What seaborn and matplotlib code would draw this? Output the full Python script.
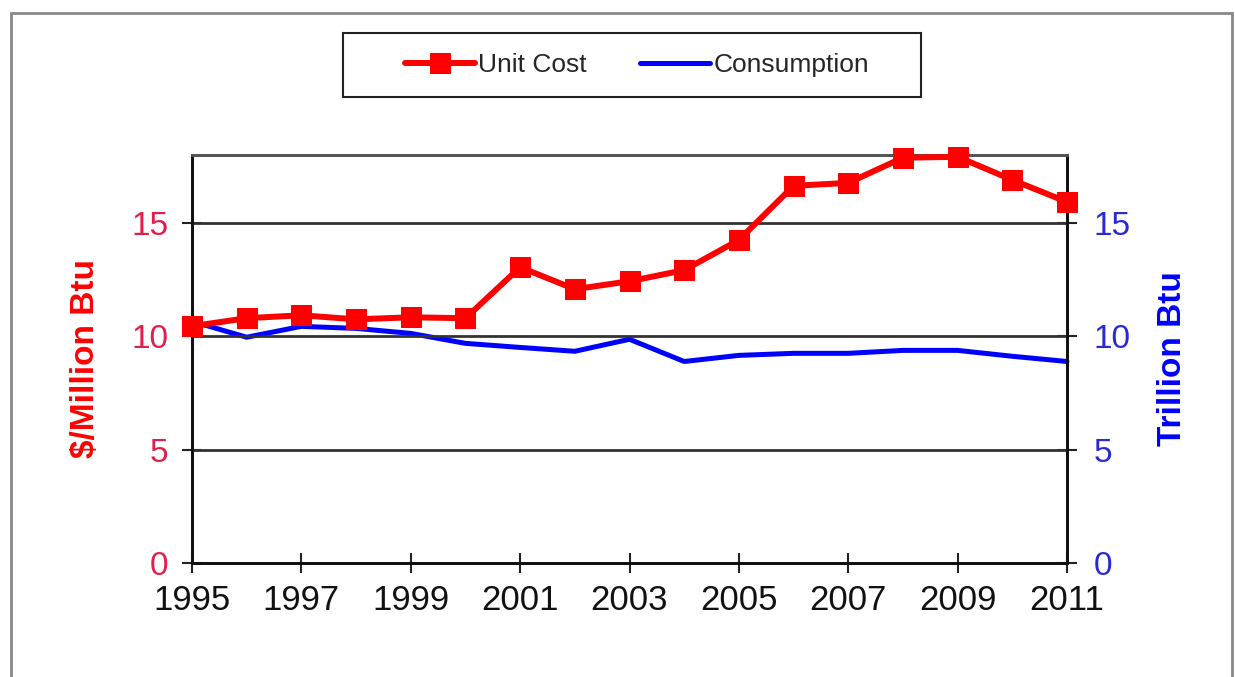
import numpy as np
import pandas as pd
import seaborn as sns
import matplotlib.pyplot as plt
import matplotlib.patches as patches

# values
years = [1995, 1996, 1997, 1998, 1999, 2000, 2001, 2002, 2003,
         2004, 2005, 2006, 2007, 2008, 2009, 2010, 2011]
unit_cost = [10.45, 10.8, 10.93, 10.75, 10.84, 10.8, 13.05, 12.08, 12.43,
             12.92, 14.25, 16.64, 16.77, 17.88, 17.92, 16.9, 15.93]
consumption = [10.66, 9.96, 10.44, 10.35, 10.13, 9.69, 9.51, 9.34, 9.87,
               8.89, 9.16, 9.25, 9.25, 9.38, 9.38, 9.12, 8.89]
xtick_years = [1995, 1997, 1999, 2001, 2003, 2005, 2007, 2009, 2011]
ytick_vals = [0, 5, 10, 15]

df = pd.DataFrame({"year": years, "cost": unit_cost, "cons": consumption})

sns.set_style("white")
plt.rcParams['font.family'] = ['Liberation Sans', 'DejaVu Sans']

fig = plt.figure(figsize=(12.35, 6.77), dpi=100)
ax = fig.add_axes([192/1235, 1-563/677, (1067-192)/1235, (563-155)/677])
ax2 = ax.twinx()

red = '#ff0000'
blue = '#0000ff'

sns.lineplot(data=df, x="year", y="cost", ax=ax, color=red, lw=4.3,
             marker='s', markersize=14, markeredgecolor=red, label="Unit Cost",
             clip_on=False, zorder=5, legend=False)
sns.lineplot(data=df, x="year", y="cons", ax=ax2, color=blue, lw=3.6,
             label="Consumption", clip_on=False, zorder=4, legend=False)

ax.set_xlim(1995, 2011)
ax.set_ylim(0, 18)
ax2.set_ylim(0, 18)
ax.set_xticks(xtick_years)
ax.set_yticks(ytick_vals)
ax2.set_yticks(ytick_vals)

# horizontal gridlines
for v in ytick_vals[1:]:
    ax.axhline(v, color='#333333', lw=2, zorder=1)

ax.tick_params(axis='x', bottom=True, direction='inout', length=14, width=1.5,
               color='#222222', labelsize=25, pad=8, labelcolor='#111111')
ax.tick_params(axis='y', left=True, direction='inout', length=14, width=1.5,
               color='#222222', labelsize=24, pad=10, labelcolor='#e0204a')
ax2.tick_params(axis='y', right=True, direction='inout', length=14, width=1.5,
                color='#222222', labelsize=24, pad=12, labelcolor='#2a2ad0')

ax.set_xlabel("")
ax.set_ylabel("$/Million Btu", color=red, fontsize=24, fontweight='bold', labelpad=22)
ax2.set_ylabel("Trillion Btu", color=blue, fontsize=24, fontweight='bold', labelpad=19)

for a in (ax, ax2):
    for side in ('left', 'right', 'bottom'):
        a.spines[side].set_color('#111111')
        a.spines[side].set_linewidth(2)
    a.spines['top'].set_color('#555555')
    a.spines['top'].set_linewidth(2)
ax2.set_zorder(ax.get_zorder() - 1)
ax.patch.set_visible(False)
ax2.patch.set_visible(True)
ax2.patch.set_facecolor('white')

# legend (frameless) with a separate box drawn around it
h1, l1 = ax.get_legend_handles_labels()
h2, l2 = ax2.get_legend_handles_labels()
leg = fig.legend(h1 + h2, l1 + l2, loc='center', ncol=2,
                 bbox_to_anchor=(637/1235, 1-65/677), frameon=False, fontsize=19,
                 handlelength=2.65, handletextpad=0.15, columnspacing=2.0)
fig.add_artist(patches.Rectangle((343/1235, 1-97/677), 578/1235, 64/677,
                                 transform=fig.transFigure, fill=False,
                                 edgecolor='#222222', lw=1.5))

# outer border
fig.add_artist(patches.Rectangle((11/1235, -0.02), (1232-11)/1235, 1.02-13/677,
                                 transform=fig.transFigure, fill=False,
                                 edgecolor='#888888', lw=2))

fig.savefig("out.png", dpi=100, facecolor='white')
